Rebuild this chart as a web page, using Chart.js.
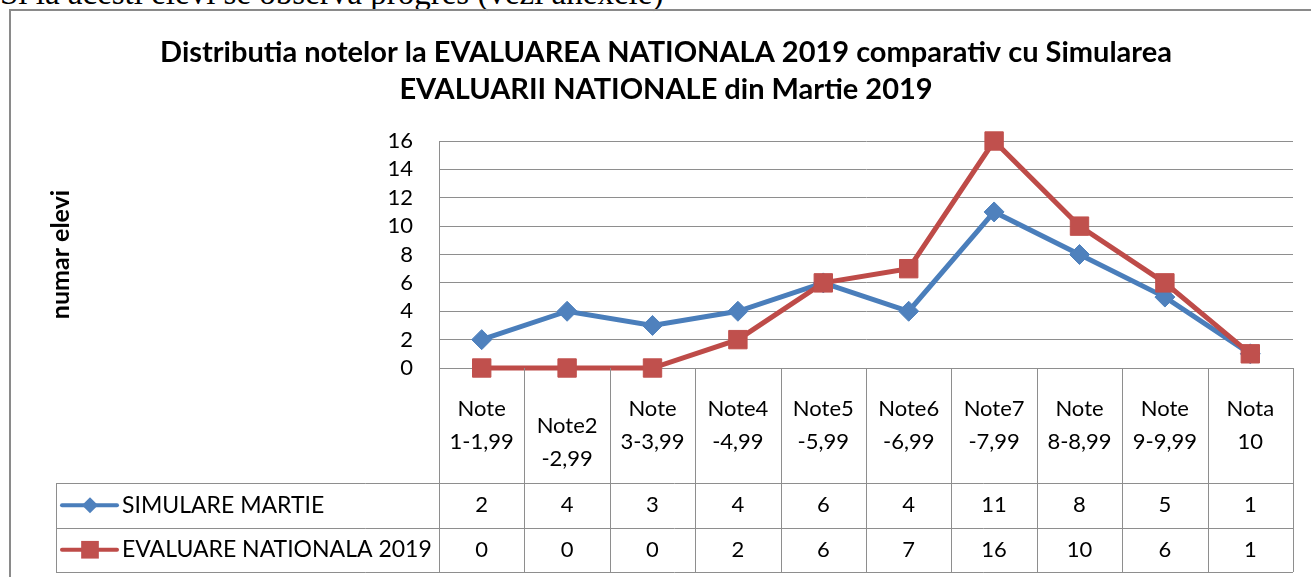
<!DOCTYPE html>
<html>
<head>
<meta charset="utf-8">
<script src="https://cdn.jsdelivr.net/npm/chart.js@4/dist/chart.umd.min.js"></script>
<style>
  html, body { margin: 0; padding: 0; background: #fff; }
  body { width: 1311px; height: 577px; overflow: hidden; position: relative; }
  #intro { position: absolute; left: 0; top: -23px; font: 33px/33px "Liberation Serif", serif; color: #000; white-space: nowrap; }
  #chart { position: absolute; left: 0; top: 0; }
</style>
</head>
<body>
<div id="intro">Si la acesti elevi se observa progres (vezi anexele)</div>
<canvas id="chart" width="1311" height="577"></canvas>
<script>
// --- date ---
const chartTitle = [
  'Distributia notelor la EVALUAREA NATIONALA 2019 comparativ cu Simularea',
  'EVALUARII NATIONALE din Martie 2019'
];
const axisTitle = 'numar elevi';
const categoryLabels = [
  ['Note', '1-1,99'], ['', 'Note2', '-2,99'], ['Note', '3-3,99'], ['Note4', '-4,99'],
  ['Note5', '-5,99'], ['Note6', '-6,99'], ['Note7', '-7,99'], ['Note', '8-8,99'],
  ['Note', '9-9,99'], ['Nota', '10']
];
const seriesNames = ['SIMULARE MARTIE', 'EVALUARE NATIONALA 2019'];
const simulareMartie = [2, 4, 3, 4, 6, 4, 11, 8, 5, 1];
const evaluareNationala = [0, 0, 0, 2, 6, 7, 16, 10, 6, 1];
const yTickValues = [0, 2, 4, 6, 8, 10, 12, 14, 16];

const gridColor = '#8e8e8e';
const textFont = '22px Lato';

// stil pentru fiecare serie (linie + marker), folosit si in tabel
const seriesStyles = [
  { line: '#4A7EBB', fill: '#4F81BD', pointStyle: 'rectRot', radius: 10, legendRadius: 8 },
  { line: '#BE4B48', fill: '#C0504D', pointStyle: 'rect', radius: 13, legendRadius: 12.5 }
];

// chenarul graficului + tabelul de date de sub axa X
const dataTablePlugin = {
  id: 'dataTable',
  beforeDraw(chart) {
    const ctx = chart.ctx;
    ctx.save();
    ctx.strokeStyle = '#8a8a8a';
    ctx.lineWidth = 2;
    ctx.strokeRect(10, 10, chart.width + 20, chart.height + 20);
    ctx.restore();
  },
  afterDraw(chart) {
    const { ctx, chartArea } = chart;
    const xScale = chart.scales.x;
    const n = categoryLabels.length;
    const colW = (chartArea.right - chartArea.left) / n;
    const top = chartArea.bottom;
    const headerBottom = top + 115;
    const rowH = 44.5;
    const tableLeft = 56;
    const tableBottom = headerBottom + rowH * seriesNames.length;

    ctx.save();
    ctx.strokeStyle = gridColor;
    ctx.lineWidth = 1;
    ctx.beginPath();
    for (let i = 0; i <= n; i++) {
      const x = Math.round(xScale.getPixelForValue(i) - colW / 2) + 0.5;
      ctx.moveTo(x, top);
      ctx.lineTo(x, tableBottom);
    }
    for (let r = 0; r <= seriesNames.length; r++) {
      const y = Math.round(headerBottom + r * rowH) + 0.5;
      ctx.moveTo(tableLeft, y);
      ctx.lineTo(chartArea.right, y);
    }
    ctx.moveTo(tableLeft + 0.5, headerBottom);
    ctx.lineTo(tableLeft + 0.5, tableBottom);
    ctx.stroke();

    // etichetele categoriilor
    ctx.fillStyle = '#000';
    ctx.font = textFont;
    ctx.textAlign = 'center';
    ctx.textBaseline = 'middle';
    const lineGap = 33;
    const headerMid = (top + headerBottom) / 2;
    categoryLabels.forEach((lines, i) => {
      const cx = xScale.getPixelForValue(i);
      const y0 = headerMid - (lines.length - 1) * lineGap / 2;
      lines.forEach((t, k) => ctx.fillText(t, cx, y0 + k * lineGap));
    });

    // randurile cu valori
    chart.data.datasets.forEach((ds, r) => {
      const cy = headerBottom + rowH * r + rowH / 2;
      const st = seriesStyles[r];
      ctx.font = textFont;
      ctx.fillStyle = '#000';
      ds.data.forEach((v, i) => {
        ctx.fillText(String(v), xScale.getPixelForValue(i), cy);
      });

      // legenda din prima coloana
      ctx.strokeStyle = st.line;
      ctx.lineWidth = 4;
      ctx.lineCap = 'round';
      ctx.beginPath();
      ctx.moveTo(62, cy);
      ctx.lineTo(117, cy);
      ctx.stroke();
      ctx.fillStyle = st.fill;
      Chart.helpers.drawPoint(ctx, { pointStyle: st.pointStyle, radius: st.legendRadius, rotation: 0, borderWidth: 0 }, 90, cy);
      ctx.fillStyle = '#000';
      ctx.font = '23px Lato';
      ctx.textAlign = 'left';
      ctx.fillText(seriesNames[r], 122, cy);
      ctx.textAlign = 'center';
    });
    ctx.restore();
  }
};

Chart.defaults.font.family = 'Lato';
Chart.defaults.color = '#000';

new Chart(document.getElementById('chart'), {
  type: 'line',
  data: {
    labels: categoryLabels,
    datasets: [
      {
        label: seriesNames[0],
        data: simulareMartie,
        borderColor: seriesStyles[0].line,
        borderWidth: 5,
        pointStyle: seriesStyles[0].pointStyle,
        pointRadius: seriesStyles[0].radius,
        pointBackgroundColor: seriesStyles[0].fill,
        pointBorderColor: seriesStyles[0].fill,
        pointBorderWidth: 1,
        tension: 0,
        clip: false,
        order: 1
      },
      {
        label: seriesNames[1],
        data: evaluareNationala,
        borderColor: seriesStyles[1].line,
        borderWidth: 5,
        pointStyle: seriesStyles[1].pointStyle,
        pointRadius: seriesStyles[1].radius,
        pointBackgroundColor: seriesStyles[1].fill,
        pointBorderColor: seriesStyles[1].fill,
        pointBorderWidth: 1,
        tension: 0,
        clip: false,
        order: 0
      }
    ]
  },
  options: {
    responsive: false,
    animation: false,
    layout: { padding: { top: 17, left: 39, right: 18, bottom: 209 } },
    plugins: {
      legend: { display: false },
      tooltip: { enabled: false },
      title: {
        display: true,
        text: chartTitle,
        color: '#000',
        font: { family: 'Lato', size: 29, weight: 'bold', lineHeight: 1.276 },
        padding: { top: 17, bottom: 33 }
      }
    },
    scales: {
      x: {
        display: false,
        offset: true
      },
      y: {
        min: 0,
        max: 16,
        afterBuildTicks: scale => { scale.ticks = yTickValues.map(v => ({ value: v })); },
        afterFit: scale => { scale.width = 400; },
        ticks: { font: { size: 22 }, color: '#000', padding: 26, autoSkip: false },
        grid: { color: gridColor, drawTicks: false },
        border: { color: gridColor },
        title: {
          display: true,
          text: axisTitle,
          color: '#000',
          font: { size: 25, weight: 'bold' },
          padding: { top: 7 }
        }
      }
    }
  },
  plugins: [dataTablePlugin]
});
</script>
</body>
</html>
